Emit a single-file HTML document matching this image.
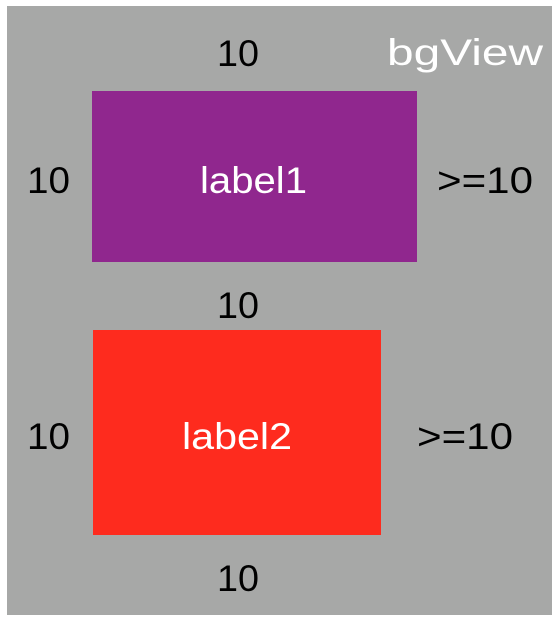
<!DOCTYPE html>
<html><head><meta charset="utf-8"><style>
html,body{margin:0;padding:0;background:#fff;width:560px;height:620px;overflow:hidden}
svg{display:block}
text{font-family:"Liberation Sans",sans-serif;font-size:37px}
</style></head><body>
<svg width="560" height="620">
<rect x="7" y="6" width="545" height="609" fill="#a7a8a7"/>
<text x="387" y="65" textLength="156" lengthAdjust="spacingAndGlyphs" fill="#fff" font-size="40">bgView</text>
<rect x="92" y="91" width="325" height="171" fill="#90278e"/>
<text x="200" y="193" textLength="107" lengthAdjust="spacingAndGlyphs" fill="#fff">label1</text>
<rect x="93" y="330" width="288" height="205" fill="#fe2b1e"/>
<text x="182" y="449" textLength="110" lengthAdjust="spacingAndGlyphs" fill="#fff">label2</text>
<text x="217" y="66" textLength="42" lengthAdjust="spacingAndGlyphs" fill="#000">10</text>
<text x="27" y="193" textLength="43" lengthAdjust="spacingAndGlyphs" fill="#000">10</text>
<text x="437" y="193" textLength="96" lengthAdjust="spacingAndGlyphs" fill="#000">&gt;=10</text>
<text x="217" y="318" textLength="42" lengthAdjust="spacingAndGlyphs" fill="#000">10</text>
<text x="27" y="449" textLength="43" lengthAdjust="spacingAndGlyphs" fill="#000">10</text>
<text x="417" y="449" textLength="96" lengthAdjust="spacingAndGlyphs" fill="#000">&gt;=10</text>
<text x="217" y="591" textLength="42" lengthAdjust="spacingAndGlyphs" fill="#000">10</text>
</svg>
</body></html>
